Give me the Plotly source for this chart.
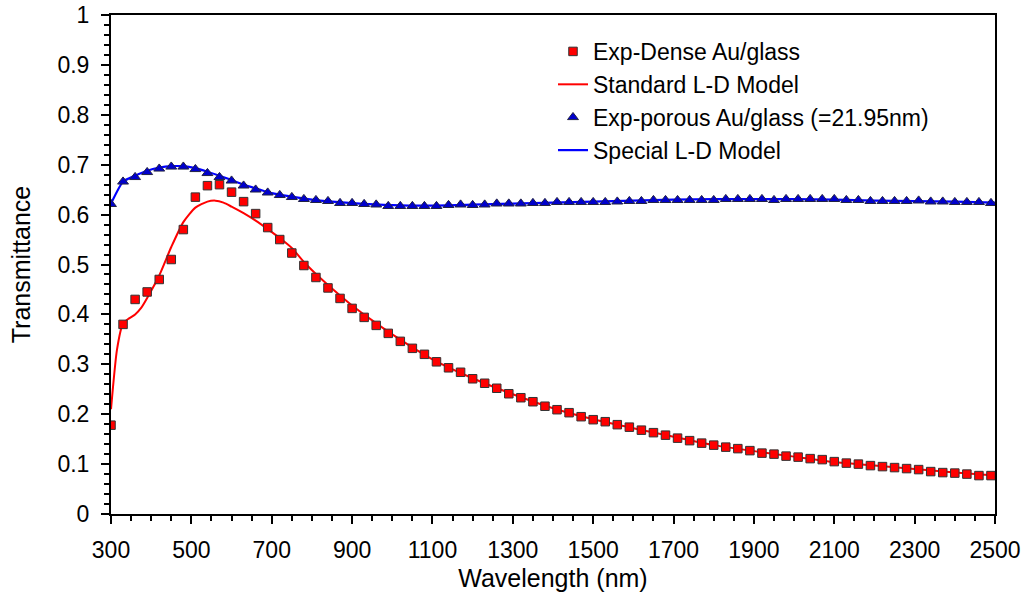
import plotly.graph_objects as go

# ---- data ----
wl_exp = [300, 330, 360, 390, 420, 450, 480, 510, 540, 570, 600, 630, 660, 690, 720, 750,
          780, 810, 840, 870, 900, 930, 960, 990, 1020, 1050, 1080, 1110, 1140, 1170, 1200,
          1230, 1260, 1290, 1320, 1350, 1380, 1410, 1440, 1470, 1500, 1530, 1560, 1590, 1620,
          1650, 1680, 1710, 1740, 1770, 1800, 1830, 1860, 1890, 1920, 1950, 1980, 2010, 2040,
          2070, 2100, 2130, 2160, 2190, 2220, 2250, 2280, 2310, 2340, 2370, 2400, 2430, 2460, 2490]

dense_exp = [0.178, 0.380, 0.430, 0.445, 0.470, 0.510, 0.570, 0.635, 0.658, 0.660, 0.645, 0.626,
             0.602, 0.574, 0.550, 0.523, 0.498, 0.474, 0.453, 0.432, 0.412, 0.394, 0.378, 0.362,
             0.346, 0.332, 0.320, 0.305, 0.293, 0.284, 0.271, 0.262, 0.252, 0.241, 0.233, 0.225,
             0.216, 0.209, 0.203, 0.195, 0.189, 0.185, 0.179, 0.174, 0.168, 0.163, 0.158, 0.152,
             0.147, 0.142, 0.138, 0.134, 0.131, 0.127, 0.122, 0.120, 0.116, 0.114, 0.111, 0.109,
             0.105, 0.102, 0.100, 0.097, 0.095, 0.093, 0.091, 0.089, 0.085, 0.083, 0.082, 0.080,
             0.077, 0.077]

porous_exp = [0.621, 0.666, 0.675, 0.685, 0.692, 0.696, 0.696, 0.691, 0.683, 0.675, 0.668, 0.658,
              0.650, 0.644, 0.639, 0.635, 0.631, 0.629, 0.627, 0.623, 0.623, 0.621, 0.620, 0.617,
              0.617, 0.617, 0.617, 0.617, 0.619, 0.620, 0.619, 0.620, 0.622, 0.622, 0.622, 0.623,
              0.623, 0.625, 0.625, 0.625, 0.625, 0.625, 0.626, 0.627, 0.627, 0.629, 0.629, 0.629,
              0.629, 0.629, 0.629, 0.631, 0.631, 0.631, 0.631, 0.629, 0.631, 0.631, 0.631, 0.631,
              0.631, 0.629, 0.629, 0.627, 0.627, 0.627, 0.627, 0.628, 0.626, 0.626, 0.625, 0.625,
              0.625, 0.623]

wl_std = [300, 315, 330, 345, 360, 375, 390, 420, 450, 480, 510, 540, 560, 580, 600, 630, 660,
          690, 720, 750, 780, 810, 840, 870, 900, 950, 1000, 1100, 1200, 1300, 1400, 1500, 1600,
          1700, 1800, 1900, 2000, 2100, 2200, 2300, 2400, 2500]
std_model = [0.210, 0.330, 0.382, 0.392, 0.400, 0.413, 0.433, 0.478, 0.535, 0.585, 0.614, 0.626,
             0.628, 0.624, 0.616, 0.603, 0.588, 0.571, 0.553, 0.533, 0.505, 0.481, 0.459, 0.438,
             0.418, 0.388, 0.360, 0.310, 0.272, 0.240, 0.212, 0.190, 0.172, 0.155, 0.138, 0.126,
             0.115, 0.104, 0.097, 0.090, 0.083, 0.077]

wl_spec = [300, 330, 360, 390, 420, 450, 480, 510, 540, 570, 600, 650, 700, 750, 800, 850, 900,
           1000, 1100, 1200, 1300, 1400, 1500, 1600, 1700, 1800, 1900, 2000, 2100, 2200, 2300,
           2400, 2500]
spec_model = [0.622, 0.666, 0.678, 0.688, 0.694, 0.697, 0.697, 0.693, 0.686, 0.678, 0.669, 0.655,
              0.643, 0.636, 0.630, 0.626, 0.623, 0.619, 0.618, 0.620, 0.622, 0.624, 0.626, 0.628,
              0.630, 0.631, 0.631, 0.631, 0.630, 0.628, 0.627, 0.626, 0.624]

x_ticks = [300, 500, 700, 900, 1100, 1300, 1500, 1700, 1900, 2100, 2300, 2500]
y_ticks = [0, 0.1, 0.2, 0.3, 0.4, 0.5, 0.6, 0.7, 0.8, 0.9, 1]
y_tick_text = ["0", "0.1", "0.2", "0.3", "0.4", "0.5", "0.6", "0.7", "0.8", "0.9", "1"]

FONT = "Arial, 'Liberation Sans', sans-serif"

fig = go.Figure()
fig.add_trace(go.Scatter(x=wl_std, y=std_model, mode="lines", name="Standard L-D Model",
                         line=dict(color="#FF0000", width=2, shape="spline", smoothing=0.6),
                         legendrank=2))
fig.add_trace(go.Scatter(x=wl_spec, y=spec_model, mode="lines", name="Special L-D Model",
                         line=dict(color="#0000FF", width=2.2, shape="spline", smoothing=0.6),
                         legendrank=4))
fig.add_trace(go.Scatter(x=wl_exp, y=dense_exp, mode="markers", name="Exp-Dense Au/glass",
                         marker=dict(symbol="square", size=8.5, color="#FF0000",
                                     line=dict(color="#333333", width=1)),
                         legendrank=1))
fig.add_trace(go.Scatter(x=wl_exp, y=porous_exp, mode="markers",
                         name="Exp-porous Au/glass (=21.95nm)",
                         marker=dict(symbol="triangle-up", size=9.5, color="#0000CC",
                                     line=dict(color="#222244", width=1)),
                         legendrank=3))

fig.update_layout(
    width=1026, height=603,
    margin=dict(l=111, r=31, t=15, b=89),
    paper_bgcolor="white", plot_bgcolor="white",
    font=dict(family=FONT, size=23, color="black"),
    showlegend=True,
    legend=dict(x=0.500, y=0.970, xanchor="left", yanchor="top",
                bgcolor="rgba(0,0,0,0)", font=dict(size=23, family=FONT),
                tracegroupgap=0),
)
fig.update_xaxes(
    range=[300, 2500], tickvals=x_ticks, ticktext=[str(v) for v in x_ticks],
    ticks="outside", ticklen=8, tickwidth=1.5, tickcolor="black",
    minor=dict(dtick=50, tick0=300, ticks="outside", ticklen=5, tickwidth=1.5, tickcolor="black", showgrid=False),
    showline=True, linecolor="black", linewidth=2, mirror=True,
    showgrid=False, zeroline=False, automargin=False,
    tickfont=dict(size=23, family=FONT), ticklabelstandoff=6,
    title=dict(text="Wavelength (nm)", font=dict(size=25, family=FONT), standoff=8),
)
fig.update_yaxes(
    range=[0, 1], tickvals=y_ticks, ticktext=y_tick_text,
    ticks="outside", ticklen=8, tickwidth=1.5, tickcolor="black",
    minor=dict(dtick=0.02, tick0=0, ticks="outside", ticklen=5, tickwidth=1.5, tickcolor="black", showgrid=False),
    showline=True, linecolor="black", linewidth=2, mirror=True,
    showgrid=False, zeroline=False, automargin=False,
    tickfont=dict(size=23, family=FONT), ticklabelstandoff=7,
    title=dict(text="Transmittance", font=dict(size=25, family=FONT), standoff=20),
)

fig.write_html("out.html")
